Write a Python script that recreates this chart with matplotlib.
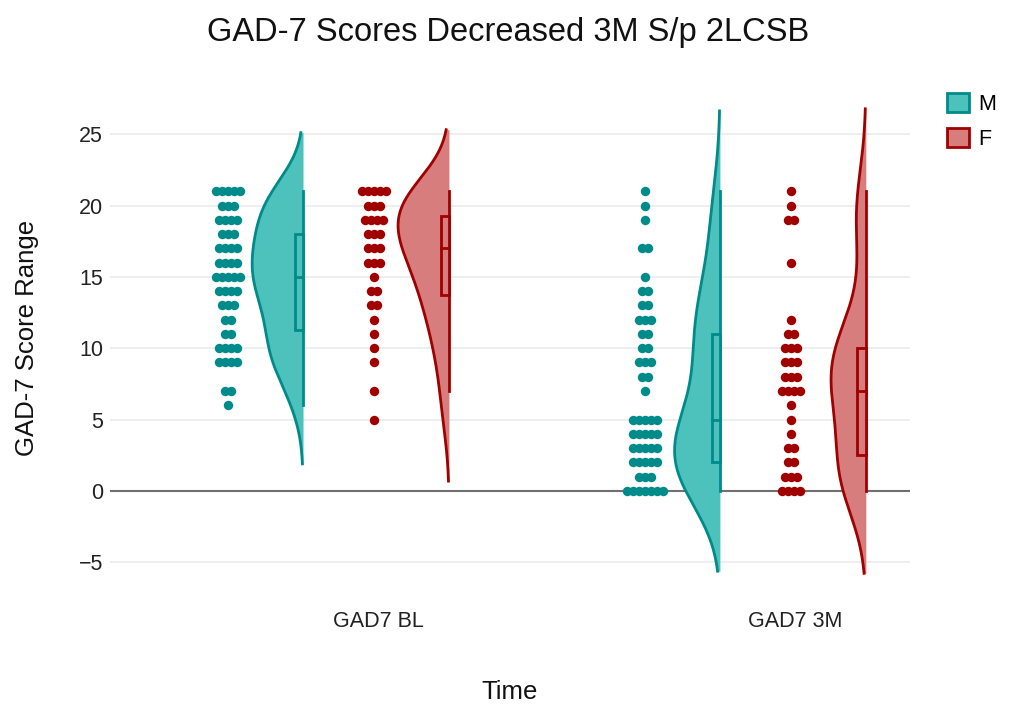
import numpy as np
import matplotlib
matplotlib.use("Agg")
import matplotlib.pyplot as plt
from matplotlib.patches import Patch, Rectangle

plt.rcParams['font.family'] = ['Liberation Sans', 'DejaVu Sans']

# ---- data: score -> number of patients at that score ----
categories = ['GAD7 BL', 'GAD7 3M']
sexes = ['M', 'F']

m_bl_scores = [21, 20, 19, 18, 17, 16, 15, 14, 13, 12, 11, 10, 9, 7, 6]
m_bl_counts = [5, 3, 4, 3, 4, 4, 5, 4, 3, 2, 2, 4, 4, 2, 1]

f_bl_scores = [21, 20, 19, 18, 17, 16, 15, 14, 13, 12, 11, 10, 9, 7, 5]
f_bl_counts = [5, 3, 4, 3, 3, 3, 1, 2, 2, 1, 1, 1, 1, 1, 1]

m_3m_scores = [21, 20, 19, 17, 15, 14, 13, 12, 11, 10, 9, 8, 7, 5, 4, 3, 2, 1, 0]
m_3m_counts = [1, 1, 1, 2, 1, 2, 2, 3, 2, 2, 3, 2, 1, 5, 5, 5, 5, 3, 7]

f_3m_scores = [21, 20, 19, 16, 12, 11, 10, 9, 8, 7, 6, 5, 4, 3, 2, 1, 0]
f_3m_counts = [1, 1, 2, 1, 1, 2, 3, 3, 3, 4, 1, 1, 1, 2, 2, 3, 4]

y_ticks = [-5, 0, 5, 10, 15, 20, 25]

# ---- styling ----
line_col = {'M': '#008b8b', 'F': '#a00000'}
fill_col = {'M': '#4dc1bb', 'F': '#d77d7d'}
base_off = {'M': -0.18, 'F': 0.17}     # violin baseline offset from category
pts_off = {'M': -0.36, 'F': -0.01}     # points column offset
max_half = 0.122
box_w = 0.02
spacing = 0.0145


def expand(scores, counts):
    return np.repeat(np.array(scores, float), counts)


groups = {
    ('M', 0): expand(m_bl_scores, m_bl_counts),
    ('M', 1): expand(m_3m_scores, m_3m_counts),
    ('F', 0): expand(f_bl_scores, f_bl_counts),
    ('F', 1): expand(f_3m_scores, f_3m_counts),
}


def kde(data):
    # silverman bandwidth, span extended by 2 bandwidths
    n = len(data)
    q1, q3 = np.percentile(data, [25, 75])
    bw = 1.059 * min(data.std(ddof=1), (q3 - q1) / 1.349) * n ** -0.2
    ys = np.linspace(data.min() - 2 * bw, data.max() + 2 * bw, 300)
    dens = np.exp(-0.5 * ((ys[:, None] - data[None, :]) / bw) ** 2).sum(1)
    dens /= n * bw * np.sqrt(2 * np.pi)
    return ys, dens


fig = plt.figure(figsize=(10.11, 7.04), dpi=100)
ax = fig.add_axes([110 / 1011, 1 - 585 / 704, 800 / 1011, 485 / 704])

for s in sexes:
    kdes = {c: kde(groups[(s, c)]) for c in range(2)}
    dmax = max(d.max() for _, d in kdes.values())
    for c in range(2):
        data = groups[(s, c)]
        ys, dens = kdes[c]
        base = c + base_off[s]
        xs = base - max_half * dens / dmax
        ax.fill_betweenx(ys, xs, base, color=fill_col[s], lw=0, zorder=2)
        ax.plot(xs, ys, color=line_col[s], lw=2, zorder=3)

        # box + whiskers
        q1, med, q3 = np.percentile(data, [25, 50, 75])
        iqr = q3 - q1
        lo = data[data >= q1 - 1.5 * iqr].min()
        hi = data[data <= q3 + 1.5 * iqr].max()
        ax.plot([base, base], [lo, hi], color=line_col[s], lw=2, zorder=4)
        ax.add_patch(Rectangle((base - box_w, q1), box_w, q3 - q1,
                               facecolor=fill_col[s], edgecolor=line_col[s],
                               lw=2, zorder=4))
        ax.plot([base - box_w, base], [med, med], color=line_col[s], lw=2, zorder=5)

        # points, spread sideways within each score row
        px, py = [], []
        for v in np.unique(data):
            k = int((data == v).sum())
            for i in range(k):
                px.append(c + pts_off[s] + (i - (k - 1) / 2) * spacing)
                py.append(v)
        ax.scatter(px, py, s=46, color=line_col[s], lw=0, zorder=3)

ax.axhline(0, color='#707070', lw=1.5, zorder=1)
ax.set_xlim(-0.643, 1.276)
ax.set_ylim(-6.6, 27.4)
ax.set_yticks(y_ticks)
ax.set_xticks([0, 1])
ax.set_xticklabels(categories)
ax.yaxis.grid(True, color='#ebebeb', lw=1.2, zorder=0)
ax.set_axisbelow(True)
for sp in ax.spines.values():
    sp.set_visible(False)
ax.tick_params(axis='both', length=0, labelsize=15.5, colors='#222222')
ax.tick_params(axis='x', pad=19)
ax.tick_params(axis='y', pad=5)

fig.text(0.503, 1 - 32 / 704, 'GAD-7 Scores Decreased 3M S/p 2LCSB',
         ha='center', va='center', fontsize=23.5, color='#111111')
fig.text(510 / 1011, 1 - 692 / 704, 'Time', ha='center', va='center',
         fontsize=18.5, color='#111111')
fig.text(27 / 1011, 1 - 338 / 704, 'GAD-7 Score Range', ha='center', va='center',
         rotation=90, fontsize=18.5, color='#111111')

handles = [Patch(facecolor=fill_col[s], edgecolor=line_col[s], lw=2, label=s)
           for s in sexes]
fig.legend(handles=handles, loc='upper left', bbox_to_anchor=(947 / 1011, 1 - 93 / 704),
           frameon=False, fontsize=15.5, handlelength=1.0, handleheight=1.0,
           handletextpad=0.45, labelspacing=0.6, borderpad=0, borderaxespad=0)

fig.savefig('out.png', dpi=100)
